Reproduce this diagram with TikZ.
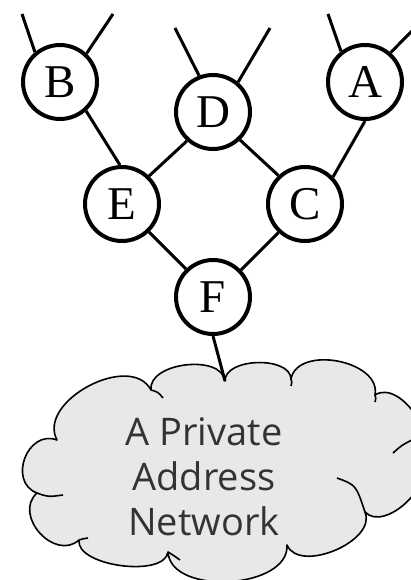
\documentclass[tikz,border=0pt]{standalone}
\usepackage{fontspec}
\setmainfont{Liberation Serif}
\newfontfamily\cloudfont{Open Sans}
\usepackage{tikz}
\usetikzlibrary{positioning}

\begin{document}
\begin{tikzpicture}[x=1pt, y=-1pt,
  router/.style={circle, draw=black, line width=4pt, fill=white,
                 minimum size=74pt, inner sep=0pt, font=\fontsize{47}{47}\selectfont},
  link/.style={line width=3pt, black},
  cloudline/.style={draw=black, line width=1.6pt, fill=black!9, line join=round},
  hook/.style={black, line width=1.6pt},
  puff/.style={bend left=90, looseness=#1},
  nettext/.style={align=center, text=black!80, font=\cloudfont\fontsize{38}{45}\selectfont}
]
  \useasboundingbox (0,0) rectangle (410,580);

  % Cloud outline
  \coordinate (j1) at (57,440);
  \coordinate (j2) at (151,390);
  \coordinate (top) at (225,381);
  \coordinate (j4) at (291,379);
  \coordinate (j5) at (375,395);
  \coordinate (j6) at (418,462);
  \coordinate (j7) at (365,512);
  \coordinate (j8) at (287,545);
  \coordinate (j9) at (168,552);
  \coordinate (j10) at (79,540);
  \coordinate (j11) at (37,493);
  \draw[cloudline] (j11) to[puff=1.43] (j1) to[puff=1.05] (j2) to[puff=0.95] (top)
    to[puff=0.9] (j4) to[puff=1.05] (j5) to[puff=1.0] (j6) to[puff=1.0] (j7)
    to[puff=0.95] (j8) to[puff=0.95] (j9) to[puff=0.75] (j10) to[puff=1.33] (j11) -- cycle;
  \draw[hook] (j11) .. controls (48,497) .. (63,495);
  \draw[hook] (j2) .. controls (158,392) .. (163,398);
  \draw[hook] (j4) .. controls (292,382) .. (291,386);
  \draw[hook] (j5) .. controls (376,398) .. (375,402);
  \draw[hook] (412,440) .. controls (402,445) .. (393,453);
  \draw[hook] (337,478) .. controls (356,485) .. (j7);
  \draw[hook] (j9) .. controls (173,555) .. (180,560);
  \draw[hook] (j10) .. controls (82,539) .. (88,538);
  \node[nettext] (pan) at (204,477) {A Private\\Address\\Network};

  % Routers
  \node[router] (b) at (60,82)  {B};
  \node[router] (d) at (213,112) {D};
  \node[router] (a) at (365,82) {A};
  \node[router] (e) at (122,204) {E};
  \node[router] (c) at (305,204) {C};
  \node[router] (f) at (213,297) {F};

  % Free link ends
  \coordinate (b1) at (22,14);
  \coordinate (b2) at (113,14);
  \coordinate (d1) at (175,28);
  \coordinate (d2) at (270,28);
  \coordinate (a1) at (328,14);
  \coordinate (a2) at (425,18);

  % Links
  \draw[link] (b.130) -- (b1);
  \draw[link] (b.47) -- (b2);
  \draw[link] (d.111) -- (d1);
  \draw[link] (d.50) -- (d2);
  \draw[link] (a.128) -- (a1);
  \draw[link] (a.49) -- (a2);
  \draw[link] (b.-48) -- (e.93);
  \draw[link] (d.-132) -- (e.46);
  \draw[link] (d.-46) -- (c.133);
  \draw[link] (a.-90) -- (c.44);
  \draw[link] (e.-46) -- (f.134);
  \draw[link] (c.-133) -- (f.44);
  \draw[link] (f.-90) -- (top);
\end{tikzpicture}
\end{document}
